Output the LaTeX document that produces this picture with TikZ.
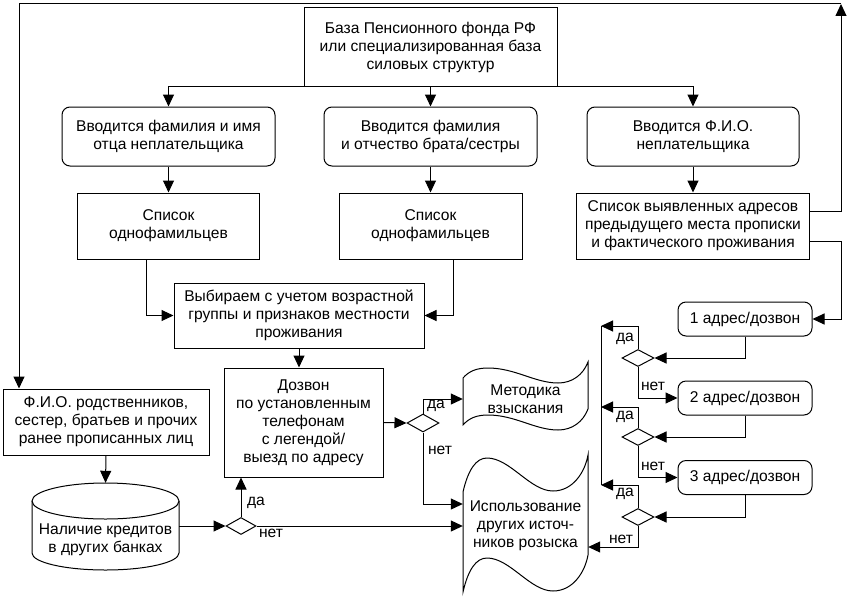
\documentclass[tikz,border=0pt]{standalone}
\usepackage{fontspec}
\setmainfont{Liberation Sans}
\usetikzlibrary{arrows.meta,shapes.geometric}
\begin{document}
\begin{tikzpicture}[x=1pt,y=-1pt,
  every node/.style={font=\fontsize{15.6}{18}\selectfont, align=center, inner sep=0pt},
  rect/.style={draw, line width=1pt},
  rbox/.style={rect, rounded corners=8pt},
  dia/.style={draw, diamond, line width=1pt, minimum width=32pt, minimum height=17pt, inner sep=0pt},
  conn/.style={line width=1pt},
  arr/.style={line width=1pt, -{Triangle[length=12pt,width=11pt]}},
  lbl/.style={font=\fontsize{15.6}{18}\selectfont}
]
\fill[white] (0,0) rectangle (850,602);
\useasboundingbox (0,0) rectangle (850,602);

% top
\node[rect, minimum width=253pt, minimum height=78pt] (baza) at (430.5,47) {База Пенсионного фонда РФ\\или специализированная база\\силовых структур};

\node[rbox, minimum width=213pt, minimum height=59pt] (v1) at (168.5,136.5) {Вводится фамилия и имя\\отца неплательщика};
\node[rbox, minimum width=213pt, minimum height=59pt] (v2) at (430.5,136.5) {Вводится фамилия\\и отчество брата/сестры};
\node[rbox, minimum width=212pt, minimum height=59pt] (v3) at (693,136.5) {Вводится Ф.И.О.\\неплательщика};

\node[rect, minimum width=182pt, minimum height=66pt] (s1) at (168.5,226) {Список\\однофамильцев};
\node[rect, minimum width=183pt, minimum height=66pt] (s2) at (430.5,226) {Список\\однофамильцев};
\node[rect, minimum width=233pt, minimum height=66pt] (s3) at (693,226) {Список выявленных адресов\\предыдущего места прописки\\и фактического проживания};

\node[rect, minimum width=250pt, minimum height=65pt] (vyb) at (299,315.5) {Выбираем с учетом возрастной\\группы и признаков местности\\проживания};

\node[rect, minimum width=159pt, minimum height=109pt] (dozv) at (303.5,422.5) {Дозвон\\по установленным\\телефонам\\с легендой/\\выезд по адресу};

\node[rect, minimum width=206pt, minimum height=66pt] (fio) at (106,422) {Ф.И.О. родственников,\\сестер, братьев и прочих\\ранее прописанных лиц};

% cylinder
\draw[conn] (32,501) -- (32,553) arc[start angle=180, end angle=360, x radius=73.5pt, y radius=17pt] -- (179,501);
\draw[conn] (105.5,501) ellipse [x radius=73.5pt, y radius=18pt];
\node[minimum width=147pt, minimum height=114pt] (cyl) at (105.5,540) {Наличие кредитов\\в других банках};

% wavy shapes
\draw[conn] (463,378) .. controls (469,371) and (477,368) .. (488,368)
  .. controls (515,368) and (535,383) .. (558,383)
  .. controls (572,383) and (583,375) .. (588,362) -- (588,409)
  .. controls (583,422) and (572,430) .. (558,430)
  .. controls (535,430) and (515,415) .. (488,415)
  .. controls (477,415) and (469,418) .. (463,425) -- cycle;
\node[minimum width=125pt, minimum height=47pt] (met) at (525.5,399) {Методика\\взыскания};

\draw[conn] (463,492) .. controls (468,470) and (476,458) .. (487,458)
  .. controls (510,458) and (530,491) .. (553,491)
  .. controls (573,491) and (585,472) .. (588,455) -- (588,555)
  .. controls (585,572) and (573,591) .. (553,591)
  .. controls (530,591) and (510,558) .. (487,558)
  .. controls (476,558) and (468,570) .. (463,592) -- cycle;
\node[minimum width=125pt, minimum height=100pt] (isp) at (525.5,526) {Использование\\других источ-\\ников розыска};

% right column
\node[rbox, minimum width=134pt, minimum height=34pt] (a1) at (745,319) {1 адрес/дозвон};
\node[rbox, minimum width=134pt, minimum height=34pt] (a2) at (745,398) {2 адрес/дозвон};
\node[rbox, minimum width=134pt, minimum height=34pt] (a3) at (745,477.5) {3 адрес/дозвон};

\node[dia] (da) at (638,358) {};
\node[dia] (db) at (638,437) {};
\node[dia] (dc) at (638,517) {};
\node[dia, minimum width=30pt] (d1) at (241,526) {};
\node[dia, minimum height=18pt] (d2) at (423,423) {};

\coordinate (busA) at (601,326);
\coordinate (busB) at (601,407);
\coordinate (busC) at (601,485);
\coordinate (tr) at (841,4);
\coordinate (tl) at (19,4);

% connectors
\draw[arr] (baza.south) -| (v1.north);
\draw[arr] (baza.south) -| (v3.north);
\draw[arr] (baza.south) -- (v2.north);
\draw[arr] (v1.south) -- (s1.north);
\draw[arr] (v2.south) -- (s2.north);
\draw[arr] (v3.south) -- (s3.north);
\draw[arr] ([xshift=-22pt]s1.south) |- (vyb.west);
\draw[arr] ([xshift=22.5pt]s2.south) |- (vyb.east);
\draw[arr] (vyb.south) -- (vyb.south |- dozv.north);
\draw[arr] (dozv.east) -- (d2.west);
\draw[arr] (d2.north) |- (met.west);
\draw[arr] (d2.south) |- ([yshift=22pt]isp.west);
\draw[arr] (fio.south) -- (cyl.north);
\draw[arr] (cyl.east |- d1.west) -- (d1.west);
\draw[arr] (d1.north) -- (d1.north |- dozv.south);
\draw[arr] (d1.east) -- (isp.west);

\draw[arr] ([yshift=15pt]s3.east) -| (tr);
\draw[arr] (tr) -- (tl) -- (tl |- fio.north);
\draw[arr] ([yshift=-15pt]s3.east) -| ([xshift=29pt]a1.east) -- (a1.east);

\draw[arr] (a1.south) |- (da.east);
\draw[arr] (a2.south) |- (db.east);
\draw[arr] (a3.south) |- (dc.east);
\draw[arr] (da.south) |- (a2.west);
\draw[arr] (db.south) |- (a3.west);
\draw[arr] (dc.south) |- ([yshift=-21pt]isp.east);
\draw[conn] (busA) -- (busC);
\draw[arr] (da.north) |- (busA);
\draw[arr] (db.north) |- (busB);
\draw[arr] (dc.north) |- (busC);

% labels
\node[lbl] (l1) at (256,503) {да};
\node[lbl] (l2) at (271,533) {нет};
\node[lbl] (l3) at (436,406) {да};
\node[lbl] (l4) at (440,450) {нет};
\node[lbl] (l5) at (625,339) {да};
\node[lbl] (l6) at (653,386) {нет};
\node[lbl] (l7) at (625,417) {да};
\node[lbl] (l8) at (653,466) {нет};
\node[lbl] (l9) at (625,494) {да};
\node[lbl] (l10) at (621,539) {нет};
\end{tikzpicture}
\end{document}
